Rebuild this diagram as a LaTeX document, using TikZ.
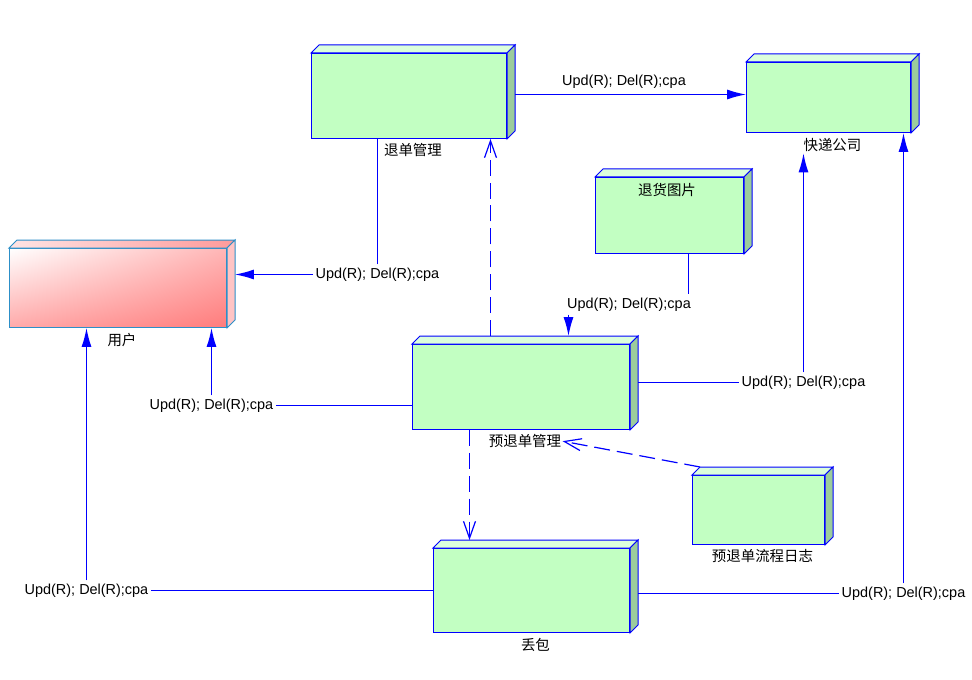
\documentclass[tikz,border=0pt]{standalone}
\usepackage{fontspec}
\setmainfont{Liberation Sans}
\newfontfamily\cjk{Noto Sans CJK SC}
\usetikzlibrary{arrows.meta,calc,positioning,shadings}

\definecolor{linkblue}{HTML}{0000FF}
\definecolor{cubefront}{HTML}{C2FFC2}
\definecolor{cubetop}{HTML}{DCFFDC}
\definecolor{cubeside}{HTML}{9CCC9C}
\definecolor{pinkedge}{HTML}{2C8FC8}
\definecolor{pinkdeep}{HTML}{FF7C7C}
\definecolor{pinkur}{HTML}{FFB6B6}
\definecolor{pinkll}{HTML}{FFAAAA}
\definecolor{pinktopa}{HTML}{FFE4E4}
\definecolor{pinktopb}{HTML}{FF9A9A}
\definecolor{pinkside}{HTML}{FFC4C4}

\newcommand\cubedepth{8}
% box with top and side face: [look]{name}{centre}{width}{height}
\newcommand\cubebox[5][g]{%
  \node[front #1, minimum width=#4bp, minimum height=#5bp] (#2) at (#3) {};
  \coordinate (#2-nw) at ($(#2.north west)+(\cubedepth,-\cubedepth)$);
  \coordinate (#2-ne) at ($(#2.north east)+(\cubedepth,-\cubedepth)$);
  \coordinate (#2-se) at ($(#2.south east)+(\cubedepth,-\cubedepth)$);
  \path[top #1] (#2.north west) -- (#2-nw) -- (#2-ne) -- (#2.north east) -- cycle;
  \path[side #1] (#2.north east) -- (#2-ne) -- (#2-se) -- (#2.south east) -- cycle;
}

\tikzset{
  front g/.style={draw=linkblue, fill=cubefront, inner sep=0pt},
  top g/.style={draw=linkblue, fill=cubetop},
  side g/.style={draw=linkblue, fill=cubeside},
  front p/.style={draw=pinkedge, upper left=white, upper right=pinkur, lower left=pinkll, lower right=pinkdeep, inner sep=0pt},
  top p/.style={draw=pinkedge, left color=pinktopa, right color=pinktopb},
  side p/.style={draw=pinkedge, fill=pinkside},
  rel/.style={font=\fontsize{14.5}{17}\selectfont, inner xsep=2pt, inner ysep=3pt},
  cn/.style={font=\cjk\fontsize{14.5}{17}\selectfont, inner sep=1pt},
  relline/.style={color=linkblue, line width=1.2bp},
  solidarr/.style={color=linkblue, line width=1.2bp, -{Latex[length=19pt,width=10pt]}},
  openarr/.style={color=linkblue, line width=1.2bp, dash pattern=on 16pt off 7pt, -{Straight Barb[length=17pt,width=12pt]}},
}

\begin{document}
\begin{tikzpicture}[x=1bp, y=-1bp, line width=1bp]
  \useasboundingbox (0,0) rectangle (972,680);

  %draw boxes
  \cubebox{tuidan}{409,96}{195}{85}
  \cubebox[p]{yonghu}{118,288}{217}{79}
  \cubebox{yutuidan}{521,387}{217}{85}
  \cubebox{rizhi}{758.5,510}{132}{69}
  \cubebox{kuaidi}{828.5,97.5}{164}{70}
  \cubebox{tupian}{669.5,215.5}{148}{76}
  \cubebox{diubao}{531.5,590.5}{196}{84}

  %draw box names
  \node[cn, below=3pt of tuidan, xshift=4pt] (tuidan-l) {退单管理};
  \node[cn, below=4pt of yonghu, xshift=4pt] (yonghu-l) {用户};
  \node[cn, below=3pt of yutuidan, xshift=4pt] (yutuidan-l) {预退单管理};
  \node[cn, below=3pt of rizhi, xshift=4pt] (rizhi-l) {预退单流程日志};
  \node[cn, below=4pt of kuaidi, xshift=4pt] (kuaidi-l) {快递公司};
  \node[cn, below=5pt of tupian.north, xshift=-2.5pt] (tupian-l) {退货图片};
  \node[cn, below=4pt of diubao, xshift=4pt] (diubao-l) {丢包};

  %draw relation labels
  \node[rel] (r1) at (624,82) {Upd(R); Del(R);cpa};
  \node[rel] (r2) at (377.5,274.5) {Upd(R); Del(R);cpa};
  \node[rel] (r3) at (211.5,405.5) {Upd(R); Del(R);cpa};
  \node[rel] (r4) at (86.5,590.5) {Upd(R); Del(R);cpa};
  \node[rel] (r5) at (903.5,593.5) {Upd(R); Del(R);cpa};
  \node[rel] (r6) at (803.5,382.5) {Upd(R); Del(R);cpa};
  \node[rel] (r7) at (629,304.5) {Upd(R); Del(R);cpa};

  %draw solid links
  \draw[solidarr] ([yshift=1.5bp]tuidan.east -| tuidan-ne) -- ([yshift=1.5bp]tuidan.east -| kuaidi.west);
  \draw[relline] (r2.north) -- (r2.north |- tuidan.south);
  \draw[solidarr] (r2.west) -- (r2.west -| yonghu-ne);
  \draw[relline] (r3.east -| yutuidan.west) -- (r3.east);
  \draw[solidarr] (r3.north) -- (r3.north |- yonghu.south);
  \draw[relline] (r4.east -| diubao.west) -- (r4.east);
  \draw[solidarr] (r4.north) -- (r4.north |- yonghu.south);
  \draw[relline] (r5.west -| diubao-ne) -- (r5.west);
  \draw[solidarr] (r5.north) -- (r5.north |- kuaidi.south);
  \draw[relline] (r6.west -| yutuidan-ne) -- (r6.west);
  \draw[solidarr] (r6.north) -- (r6.north |- kuaidi-l.south);
  \draw[relline] ([xshift=19bp]tupian.south) -- ([xshift=19bp]tupian.south |- r7.north);
  \draw[solidarr] ([xshift=47.5bp]yutuidan.north |- r7.south) -- ([xshift=47.5bp]yutuidan.north |- yutuidan-ne);

  %draw dashed links
  \draw[openarr] ([xshift=-30.5bp]yutuidan.north |- yutuidan-ne) -- ([xshift=-30.5bp]yutuidan.north |- tuidan.south);
  \draw[openarr] ([xshift=-51.5bp]yutuidan.south) -- ([xshift=-51.5bp]yutuidan.south |- diubao-ne);
  \draw[openarr] (rizhi-nw) -- (yutuidan-l.east);
\end{tikzpicture}
\end{document}
